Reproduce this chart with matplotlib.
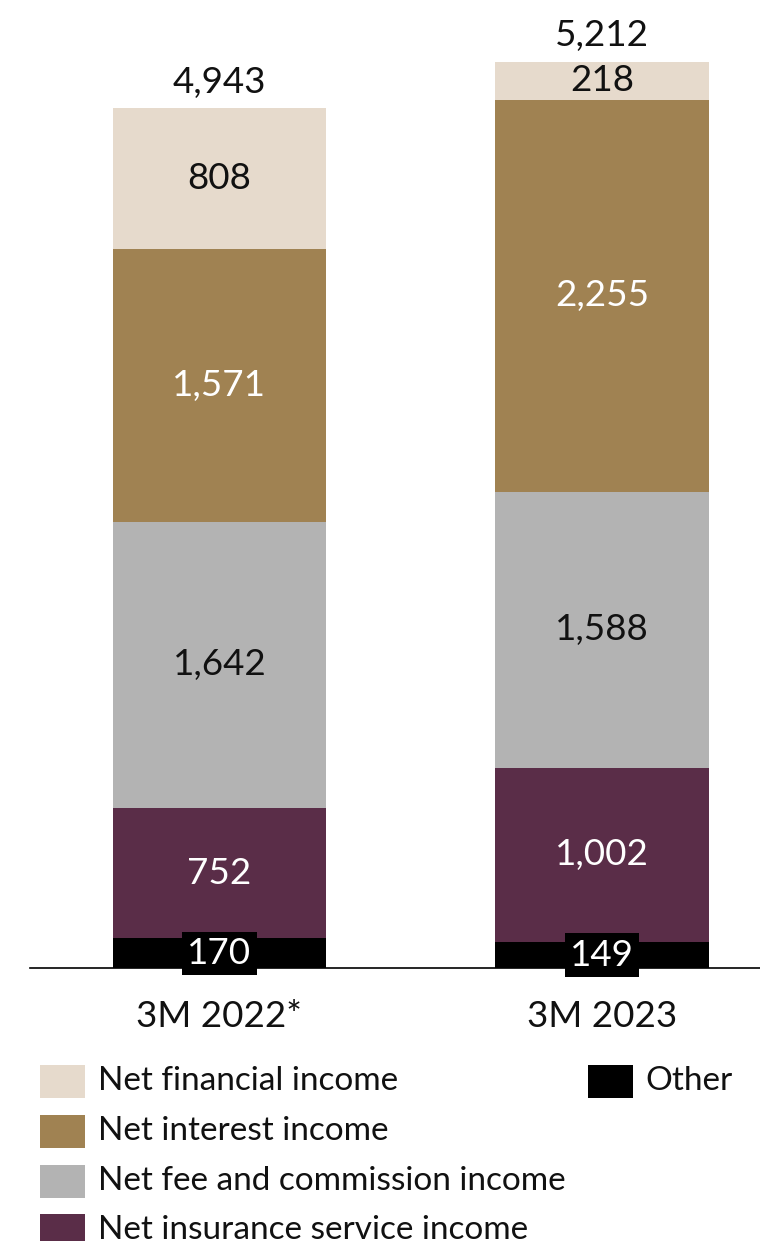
import matplotlib
matplotlib.use("Agg")
import matplotlib.pyplot as plt
from matplotlib.patches import Rectangle

plt.rcParams['font.family'] = ['Lato', 'DejaVu Sans']

categories = ["3M 2022*", "3M 2023"]
series_names = ["Other", "Net insurance service income", "Net fee and commission income",
                "Net interest income", "Net financial income"]
other = [170, 149]
insurance = [752, 1002]
fee = [1642, 1588]
interest = [1571, 2255]
financial = [808, 218]
totals = [4943, 5212]
series_values = [other, insurance, fee, interest, financial]
colors = ["#000000", "#5A2D48", "#B3B3B3", "#A08252", "#E6DACC"]
text_colors = ["white", "white", "#111111", "white", "#111111"]

W, H = 760, 1241
fig = plt.figure(figsize=(W / 100, H / 100), dpi=100)
base_px = 968
ax = fig.add_axes([30 / W, (H - base_px) / H, 1 - 30 / W, base_px / H])
ax.set_xlim(-0.495, 1.413)
ax.set_ylim(0, base_px / 0.1739)
for s in ax.spines.values():
    s.set_visible(False)
ax.spines['bottom'].set_visible(True)
ax.spines['bottom'].set_linewidth(1.2)
ax.set_yticks([])
ax.set_xticks([])

x = list(range(len(categories)))
bw = 0.557
bottoms = [0] * len(categories)
fs = 26.5
for vals, col, tc in zip(series_values, colors, text_colors):
    ax.bar(x, vals, bw, bottom=bottoms, color=col, edgecolor='none', zorder=2)
    for i, v in enumerate(vals):
        yc = bottoms[i] + v / 2
        kw = {}
        if col == "#000000":
            kw['bbox'] = dict(boxstyle='square,pad=0.14', fc='black', ec='none')
        ax.text(x[i], yc, f"{v:,}", ha='center', va='center', color=tc, fontsize=fs, zorder=4, **kw)
    bottoms = [b + v for b, v in zip(bottoms, vals)]

for i, t in enumerate(totals):
    ax.annotate(f"{t:,}", (x[i], t), xytext=(0, 7), textcoords='offset points',
                ha='center', va='bottom', fontsize=fs, color='#111111')
for i, c in enumerate(categories):
    ax.annotate(c, (x[i], 0), xytext=(0, -35), textcoords='offset points',
                ha='center', va='center', fontsize=fs, color='#111111', annotation_clip=False)

# legend
lfs = 24
left_items = [4, 3, 2, 1]
rows_y = [1081, 1131, 1181, 1230]
for idx, yc in zip(left_items, rows_y):
    fig.patches.append(Rectangle((40 / W, (H - yc - 17) / H), 45 / W, 33 / H,
                                 transform=fig.transFigure, fc=colors[idx], ec='none'))
    fig.text(98 / W, (H - yc) / H, series_names[idx], ha='left', va='center',
             fontsize=lfs, color='#111111')
fig.patches.append(Rectangle((588 / W, (H - 1081 - 17) / H), 45 / W, 33 / H,
                             transform=fig.transFigure, fc=colors[0], ec='none'))
fig.text(645 / W, (H - 1081) / H, series_names[0], ha='left', va='center',
         fontsize=lfs, color='#111111')

fig.savefig("out.png", dpi=100)
